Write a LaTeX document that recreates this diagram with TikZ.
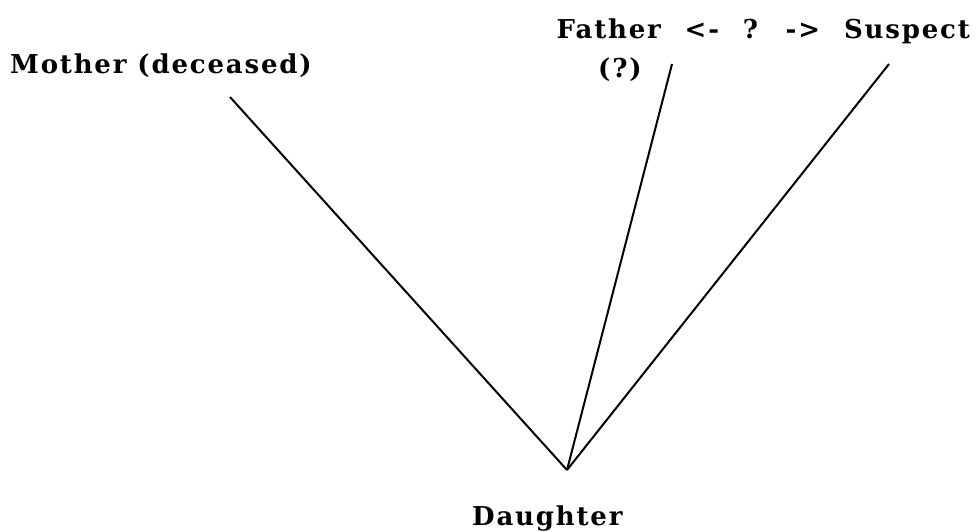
\documentclass[tikz,border=0pt]{standalone}
\usepackage{fontspec}
\setmainfont{DejaVu Serif}[LetterSpace=7]
\begin{document}
\begin{tikzpicture}[x=1pt,y=-1pt,
  lbl/.style={inner sep=0pt,font=\fontsize{26}{30}\selectfont\bfseries},
  edge/.style={line width=2pt,black}]
\useasboundingbox (0,0) rectangle (979,531);
\node[lbl,anchor=base west] (mother) at (10,73) {Mother (deceased)};
\node[lbl,anchor=base east] (father) at (970,38) {Father\hspace{13pt} <-\hspace{13pt} ?\hspace{13pt} ->\hspace{13pt} Suspect};
\node[lbl,anchor=base west] (q) at (598,77) {(?)};
\node[lbl,anchor=base west] (daughter) at (472,525) {Daughter};
\coordinate (mtop) at (230,97);
\coordinate (ftop) at (672,64);
\coordinate (stop) at (889,64);
\coordinate (d) at (567,470);
\draw[edge] (mtop) -- (d);
\draw[edge] (ftop) -- (d);
\draw[edge] (stop) -- (d);
\end{tikzpicture}
\end{document}
